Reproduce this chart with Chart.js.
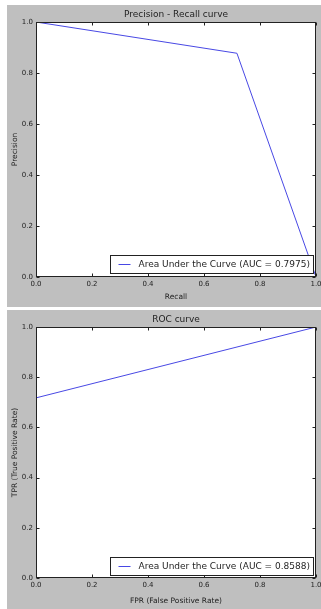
<!DOCTYPE html>
<html><head><meta charset="utf-8">
<script src="https://cdn.jsdelivr.net/npm/chart.js@4"></script>
<style>
html,body{margin:0;padding:0;background:#fff;width:321px;height:609px;overflow:hidden}
.panel{position:absolute;left:7px;width:314px;background:#bfbfbf}
#p1{top:5px;height:302px}
#p2{top:310px;height:299px}
canvas{display:block}
</style></head><body>
<div class="panel" id="p1"><canvas id="c1" width="314" height="302"></canvas></div>
<div class="panel" id="p2"><canvas id="c2" width="314" height="299"></canvas></div>
<script>
// ---- data ----
const prRecall = [0.0, 0.7176, 1.0];
const prPrecision = [1.0, 0.8774, 0.0];
const prAuc = '0.7975';
const rocFpr = [0.0, 0.0, 1.0];
const rocTpr = [0.0, 0.7176, 1.0];
const rocAuc = '0.8588';
const tickValues = [0, 0.2, 0.4, 0.6, 0.8, 1.0];
const tickLabels = ['0.0', '0.2', '0.4', '0.6', '0.8', '1.0'];

const FAMILY = '"DejaVu Sans", sans-serif';
const TEXT = '#1e1e1e';
const LINE = '#4848e4';

const framePlugin = {
  id: 'frame',
  beforeDatasetsDraw(chart) {
    const {ctx, chartArea: a} = chart;
    ctx.save();
    ctx.fillStyle = '#fff';
    ctx.fillRect(a.left, a.top, a.right - a.left, a.bottom - a.top);
    ctx.restore();
  },
  afterDatasetsDraw(chart, args, opts) {
    const {ctx, chartArea: a, scales} = chart;
    ctx.save();
    ctx.strokeStyle = '#222';
    ctx.lineWidth = 1;
    const L = Math.round(a.left) + 0.5, T = Math.round(a.top) + 0.5;
    const R = Math.round(a.right) - 0.5, B = Math.round(a.bottom) - 0.5;
    ctx.strokeRect(L, T, R - L, B - T);
    ctx.beginPath();
    scales.x.ticks.forEach(t => {
      const px = Math.round(scales.x.getPixelForValue(t.value)) + 0.5;
      ctx.moveTo(px, B); ctx.lineTo(px, B - 3);
      ctx.moveTo(px, T); ctx.lineTo(px, T + 3);
    });
    scales.y.ticks.forEach(t => {
      const py = Math.round(scales.y.getPixelForValue(t.value)) + 0.5;
      ctx.moveTo(L, py); ctx.lineTo(L + 3, py);
      ctx.moveTo(R, py); ctx.lineTo(R - 3, py);
    });
    ctx.stroke();
    // title
    ctx.fillStyle = TEXT;
    ctx.font = '9px ' + FAMILY;
    ctx.textAlign = 'center';
    ctx.textBaseline = 'middle';
    ctx.fillText(opts.title, (a.left + a.right) / 2, a.top - 7.5);
    // legend (lower right, inside axes)
    const label = chart.data.datasets[0].label;
    ctx.font = '9px ' + FAMILY;
    const tw = ctx.measureText(label).width;
    const bw = Math.round(tw + 31), bh = 18;
    const bx = Math.round(a.right - 3 - bw) + 0.5;
    const by = Math.round(a.bottom - opts.legendBottom - bh) + 0.5;
    ctx.fillStyle = '#fff';
    ctx.fillRect(bx, by, bw, bh);
    ctx.strokeStyle = '#222';
    ctx.strokeRect(bx, by, bw, bh);
    ctx.strokeStyle = LINE;
    ctx.beginPath();
    ctx.moveTo(bx + 8, by + bh / 2); ctx.lineTo(bx + 20, by + bh / 2);
    ctx.stroke();
    ctx.fillStyle = TEXT;
    ctx.textAlign = 'left';
    ctx.fillText(label, bx + 28, by + bh / 2 + 0.5);
    ctx.restore();
  }
};

function axis(titleText, fitSize, isX, titlePad) {
  return {
    type: 'linear', min: 0, max: 1,
    afterBuildTicks: s => { s.ticks = tickValues.map(v => ({value: v})); },
    afterFit: s => {
      if (isX) s.height = fitSize; else s.width = fitSize;
      s.paddingLeft = 0; s.paddingRight = 0; s.paddingTop = 0; s.paddingBottom = 0;
    },
    ticks: {
      callback: (v, i) => tickLabels[i],
      font: {family: FAMILY, size: 7},
      color: TEXT, padding: 3, maxRotation: 0, autoSkip: false
    },
    grid: {display: false, drawTicks: false},
    border: {display: false},
    title: {
      display: true, text: titleText, color: TEXT,
      font: {family: FAMILY, size: 7.5},
      padding: isX ? {top: 0, bottom: titlePad} : {top: titlePad, bottom: 0}
    }
  };
}

function makeChart(id, xs, ys, label, title, xTitle, yTitle, bottomSpace, xPad, legendBottom) {
  return new Chart(document.getElementById(id), {
    type: 'line',
    data: {
      datasets: [{
        label: label,
        data: xs.map((x, i) => ({x: x, y: ys[i]})),
        borderColor: LINE, borderWidth: 1, pointRadius: 0, fill: false, tension: 0
      }]
    },
    options: {
      responsive: false, animation: false, parsing: true,
      layout: {padding: {top: 17, right: 5, left: 0, bottom: 0}},
      plugins: {legend: {display: false}, tooltip: {enabled: false}, title: {display: false},
        frame: {title: title, legendBottom: legendBottom}},
      scales: {
        x: axis(xTitle, bottomSpace, true, xPad),
        y: axis(yTitle, 29, false, 3.5)
      }
    },
    plugins: [framePlugin]
  });
}

makeChart('c1', prRecall, prPrecision, 'Area Under the Curve (AUC = ' + prAuc + ')',
  'Precision - Recall curve', 'Recall', 'Precision', 30, 5, 4);
makeChart('c2', rocFpr, rocTpr, 'Area Under the Curve (AUC = ' + rocAuc + ')',
  'ROC curve', 'FPR (False Positive Rate)', 'TPR (True Positive Rate)', 31, 3, 3);
</script>
</body></html>
